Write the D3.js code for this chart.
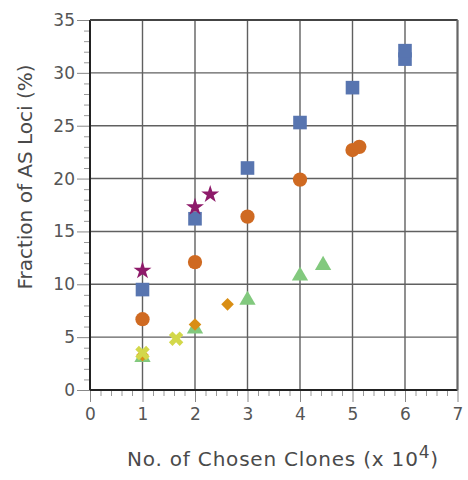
<!DOCTYPE html>
<html>
<head>
<meta charset="utf-8">
<script src="https://cdn.jsdelivr.net/npm/d3@7"></script>
<style>
  body { margin: 0; background: #fff; }
  text { font-family: "DejaVu Sans", sans-serif; fill: #4a4a4a; }
</style>
</head>
<body>
<div class="container"></div>
<script>
// Data (x in units of 10^4 clones, y in %)
const squares   = [[1, 9.5], [2, 16.2], [3, 21.0], [4, 25.3], [5, 28.6], [6, 31.3], [6, 32.1]]
const circles   = [[1, 6.7], [2, 12.1], [3, 16.4], [4, 19.9], [5, 22.7], [5.13, 23.0]]
const triangles = [[1, 3.1], [2, 5.8], [3, 8.5], [4, 10.8], [4.44, 11.8]]
const diamonds  = [[1, 3.3], [2, 6.2], [2.62, 8.1]]
const crosses   = [[1, 3.5], [1.64, 4.85]]
const stars     = [[1, 11.3], [2, 17.3], [2.29, 18.5]]
const xTicks = [0, 1, 2, 3, 4, 5, 6, 7]
const yTicks = [0, 5, 10, 15, 20, 25, 30, 35]

const width = 468
const height = 480
const margin = {top: 20, right: 10, bottom: 90, left: 90}

const svg = d3.select(".container")
    .append("svg")
    .attr("width", width)
    .attr("height", height)

const x = d3.scaleLinear().domain([0, 7]).range([margin.left, 457.5])
const y = d3.scaleLinear().domain([0, 35]).range([390, margin.top])

// grid
svg.append("g")
    .selectAll("line")
    .data(xTicks.slice(1))
    .enter().append("line")
    .attr("x1", d => x(d)).attr("x2", d => x(d))
    .attr("y1", y(0)).attr("y2", y(35))
    .style("stroke", "#606060").style("stroke-width", 1.4)
svg.append("g")
    .selectAll("line")
    .data(yTicks.slice(1))
    .enter().append("line")
    .attr("x1", x(0)).attr("x2", x(7))
    .attr("y1", d => y(d)).attr("y2", d => y(d))
    .style("stroke", "#606060").style("stroke-width", 1.4)

// minor ticks
const xMinor = d3.range(0, 35).map(i => i * 0.2).filter(v => Math.abs(v - Math.round(v)) > 0.01)
const yMinor = d3.range(0, 36).filter(v => v % 5 != 0)

svg.append("g")
    .attr("transform", `translate(0, ${y(0)})`)
    .call(d3.axisBottom(x).tickValues(xMinor).tickSize(6).tickFormat(""))
    .call(g => g.select(".domain").remove())
    .call(g => g.selectAll("line").style("stroke", "#999"))
svg.append("g")
    .attr("transform", `translate(${x(0)}, 0)`)
    .call(d3.axisLeft(y).tickValues(yMinor).tickSize(6).tickFormat(""))
    .call(g => g.select(".domain").remove())
    .call(g => g.selectAll("line").style("stroke", "#999"))

// major axes
svg.append("g")
    .attr("transform", `translate(0, ${y(0)})`)
    .call(d3.axisBottom(x).tickValues(xTicks).tickSize(12).tickPadding(6).tickFormat(d3.format("d")))
    .call(g => g.select(".domain").remove())
    .call(g => g.selectAll("line").style("stroke", "#888"))
    .call(g => g.selectAll("text").style("font-size", "17px").style("fill", "#555"))
svg.append("g")
    .attr("transform", `translate(${x(0)}, 0)`)
    .call(d3.axisLeft(y).tickValues(yTicks).tickSize(13).tickPadding(2))
    .call(g => g.select(".domain").remove())
    .call(g => g.selectAll("line").style("stroke", "#888"))
    .call(g => g.selectAll("text").style("font-size", "17px").style("fill", "#555"))

// frame
svg.append("line")
    .attr("x1", x(0)).attr("x2", x(7)).attr("y1", y(0)).attr("y2", y(0))
    .style("stroke", "#222").style("stroke-width", 2)
svg.append("line")
    .attr("x1", x(0)).attr("x2", x(0)).attr("y1", y(0)).attr("y2", y(35))
    .style("stroke", "#222").style("stroke-width", 2)
svg.append("line")
    .attr("x1", x(0)).attr("x2", x(7)).attr("y1", y(35)).attr("y2", y(35))
    .style("stroke", "#444").style("stroke-width", 1.8)
svg.append("line")
    .attr("x1", x(7)).attr("x2", x(7)).attr("y1", y(0)).attr("y2", y(35))
    .style("stroke", "#666").style("stroke-width", 2)

// markers
function drawSeries(data, symbol, size, color, rotate) {
    svg.append("g")
        .selectAll("path")
        .data(data)
        .enter().append("path")
        .attr("d", d3.symbol().type(symbol).size(size))
        .attr("transform", d => `translate(${x(d[0])}, ${y(d[1])}) rotate(${rotate || 0})`)
        .style("fill", color)
}

drawSeries(squares, d3.symbolSquare, 185, "#5875b0")
drawSeries(circles, d3.symbolCircle, 160, "#cf6a22")
drawSeries(triangles, d3.symbolTriangle, 115, "#82c97e")
drawSeries(diamonds, d3.symbolSquare, 80, "#d98e14", 45)
drawSeries(crosses, d3.symbolCross, 130, "#d3d84a", 45)
drawSeries(stars, d3.symbolStar, 100, "#8e1a6a")

// axis titles
svg.append("text")
    .attr("x", 283)
    .attr("y", 466)
    .attr("text-anchor", "middle")
    .style("font-size", "20px")
    .style("letter-spacing", "0.8px")
    .html('No. of Chosen Clones (x 10<tspan dy="-8" font-size="17px">4</tspan><tspan dy="8">)</tspan>')

svg.append("text")
    .attr("transform", `translate(32, 177) rotate(-90)`)
    .attr("text-anchor", "middle")
    .style("font-size", "20px")
    .text("Fraction of AS Loci (%)")
</script>
</body>
</html>
